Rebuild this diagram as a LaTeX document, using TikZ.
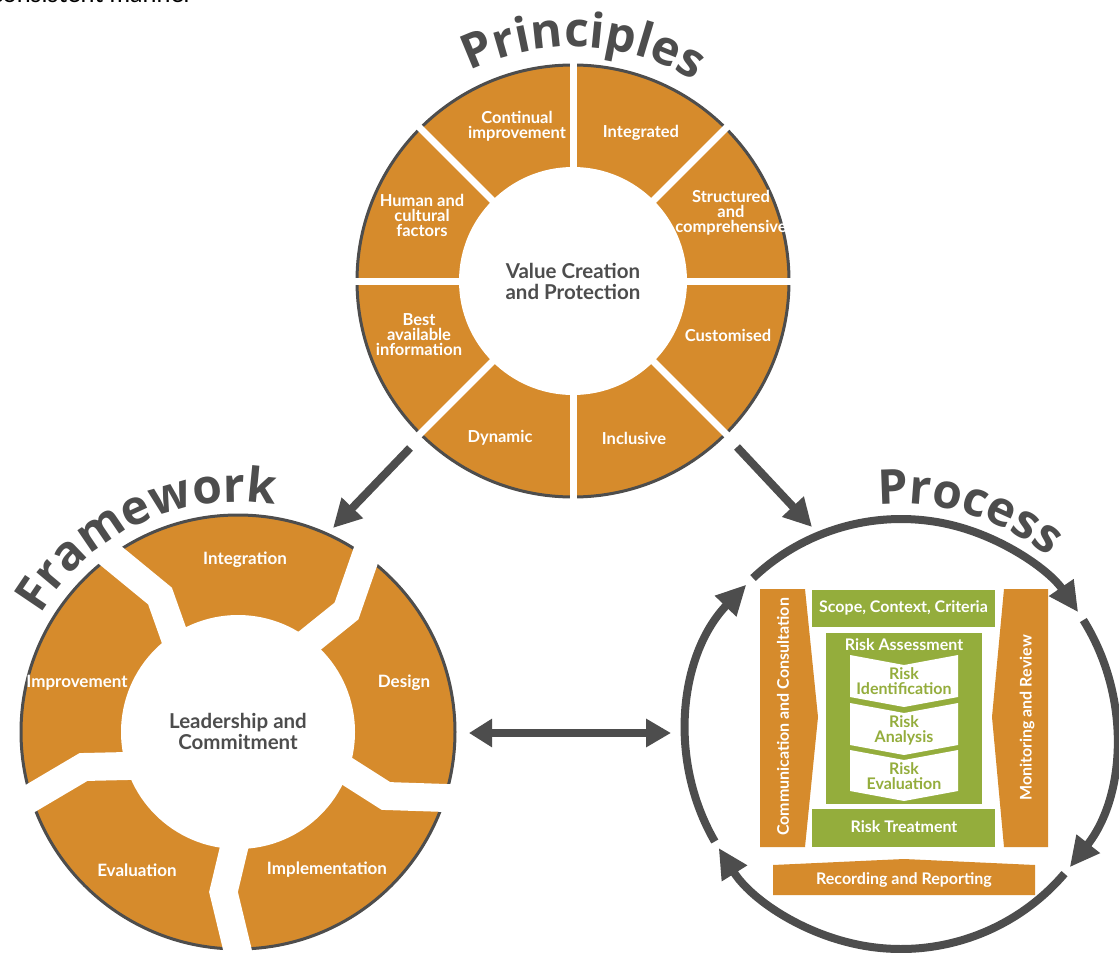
\documentclass[tikz,border=0pt]{standalone}
\usepackage{fontspec}
\setmainfont{Lato}
\newfontfamily\titlefont{Open Sans}
\usetikzlibrary{arrows.meta,decorations.text}
\definecolor{org}{RGB}{214,139,44}
\definecolor{grn}{RGB}{148,173,60}
\definecolor{dgray}{RGB}{77,77,77}
\tikzset{
  plabel/.style={text=white, font=\bfseries\fontsize{16.5}{15}\selectfont, align=center, inner sep=0pt},
  flabel/.style={text=white, font=\bfseries\fontsize{17}{17}\selectfont, align=center, inner sep=0pt},
  ctext/.style={text=dgray, font=\bfseries\fontsize{20.5}{21}\selectfont, align=center, inner sep=0pt},
  boxtext/.style={text=white, font=\bfseries\fontsize{16}{16}\selectfont, align=center, inner sep=0pt},
  chevtext/.style={text=grn, font=\bfseries\fontsize{16}{15}\selectfont, align=center, inner sep=0pt},
  gapline/.style={white, line width=28pt, line join=miter},
  rimline/.style={dgray, line width=3pt},
  bigarrow/.style={dgray, line width=8pt, -{Triangle[length=28pt,width=28pt]}},
  procarc/.style={dgray, line width=8pt, -{Triangle[length=30pt,width=28pt]}},
  titlepath/.style={decorate, decoration={text along path, text color=dgray, text align=center, text={|\titlefont\bfseries\fontsize{48}{48}\selectfont|#1}}}
}
\begin{document}
\begin{tikzpicture}[x=1pt,y=-1pt]
\useasboundingbox (0,0) rectangle (1119,953);
\fill[white] (0,0) rectangle (1119,953);
% clipped text at the top
\node[anchor=base east, inner sep=0pt, font=\fontsize{25}{25}\selectfont] (toptext) at (193,2) {consistent manner};

% ---------------- Principles ----------------
\coordinate (Pc) at (573,281);
\fill[org] (Pc) circle[radius=217];
\draw[rimline] (Pc) circle[radius=216];
\foreach \a in {0,45,90,135} \draw[white, line width=7pt] (Pc) ++(\a:226) -- ++(\a+180:452);
\fill[white] (Pc) circle[radius=114];
\node[plabel] (p1) at (517,126) {Continual\\improvement};
\node[plabel] (p2) at (641,133) {Integrated};
\node[plabel] (p3) at (731,213) {Structured\\and\\comprehensive};
\node[plabel] (p4) at (728,335) {Customised};
\node[plabel] (p5) at (634,438) {Inclusive};
\node[plabel] (p6) at (500,438) {Dynamic};
\node[plabel] (p7) at (419,335) {Best\\available\\information};
\node[plabel] (p8) at (422,215) {Human and\\cultural\\factors};
\node[ctext] (pv) at (573,281) {Value Creation\\and Protection};
\path[titlepath=Principles] (Pc) ++(212.5:234) arc[start angle=212.5, end angle=332.5, radius=234];

% ---------------- Framework ----------------
\coordinate (Fc) at (238,732);
\fill[org] (Fc) circle[radius=218];
\draw[rimline] (Fc) circle[radius=217];
\fill[white] (Fc) circle[radius=117];
\draw[gapline] (184,665) -- (173.5,634) -- (160,596) -- (112.5,557) -- (78,529);
\draw[gapline] (290,656) -- (310.5,640) -- (346.5,611) -- (365.5,556.5) -- (377,524);
\draw[gapline] (320,754) -- (347.5,771.5) -- (386,796) -- (446.5,798) -- (480,798);
\draw[gapline] (240,822) -- (234,848) -- (223.5,892) -- (237.5,950) -- (243,975);
\draw[gapline] (150,765) -- (127,766) -- (83.5,767) -- (31,798) -- (0,816);
\node[flabel] (f1) at (245,560) {Integration};
\node[flabel] (f2) at (404,683) {Design};
\node[flabel] (f3) at (327,870) {Implementation};
\node[flabel] (f4) at (137,870) {Evaluation};
\node[flabel] (f5) at (77,683) {Improvement};
\node[ctext] (fl) at (238,731) {Leadership and\\Commitment};
\path[titlepath=Framework] (Fc) ++(175:230) arc[start angle=175, end angle=315, radius=230];

% ---------------- Process ----------------
\coordinate (Rc) at (901,734);
\draw[procarc] (Rc) ++(150:215) arc[start angle=150, end angle=224, radius=215];
\draw[procarc] (Rc) ++(226.5:215) arc[start angle=226.5, end angle=325.5, radius=215];
\draw[procarc] (Rc) ++(328:215) arc[start angle=328, end angle=398.3, radius=215];
\draw[procarc] (Rc) ++(40.5:215) arc[start angle=40.5, end angle=148, radius=215];
\path[titlepath=Process] (Rc) ++(217:230) arc[start angle=217, end angle=357, radius=230];

% side bars
\fill[org] (760,589) -- (805,589) -- (818,717) -- (805,847) -- (760,847) -- cycle;
\node[boxtext, rotate=90] (cc) at (783,717) {Communication and Consultation};
\fill[org] (1004,589) -- (1048,589) -- (1048,847) -- (1004,847) -- (992,717) -- cycle;
\node[boxtext, rotate=90] (mr) at (1027,718) {Monitoring and Review};
% green boxes
\fill[grn] (812,590) rectangle (995,627);
\node[boxtext] (scc) at (903.5,608) {Scope, Context, Criteria};
\fill[grn] (826,633) rectangle (982,804);
\node[boxtext] (ra) at (904,645) {Risk Assessment};
\fill[white] (850,655) -- (904,665) -- (958,655) -- (958,697) -- (904,707) -- (850,697) -- cycle;
\fill[white] (850,703) -- (904,713) -- (958,703) -- (958,745) -- (904,755) -- (850,745) -- cycle;
\fill[white] (850,750) -- (904,760) -- (958,750) -- (958,791) -- (904,801) -- (850,791) -- cycle;
\node[chevtext] (ri) at (904,681) {Risk\\Identification};
\node[chevtext] (ran) at (904,730) {Risk\\Analysis};
\node[chevtext] (rev) at (904,776) {Risk\\Evaluation};
\fill[grn] (812,809) rectangle (995,847);
\node[boxtext] (rt) at (904,827) {Risk Treatment};
\fill[org] (773,865) -- (904,859) -- (1035,865) -- (1035,895) -- (773,895) -- cycle;
\node[boxtext] (rr) at (904,880) {Recording and Reporting};

% ---------------- connectors ----------------
\coordinate (a1s) at (410,448);
\coordinate (a1e) at (333,528);
\coordinate (a2s) at (737,447);
\coordinate (a2e) at (812,527);
\coordinate (a3s) at (469,733);
\coordinate (a3e) at (671,733);
\draw[bigarrow] (a1s) -- (a1e);
\draw[bigarrow] (a2s) -- (a2e);
\draw[dgray, line width=8pt, {Triangle[length=23pt,width=27pt]}-{Triangle[length=25pt,width=27pt]}] (a3s) -- (a3e);
\end{tikzpicture}
\end{document}
